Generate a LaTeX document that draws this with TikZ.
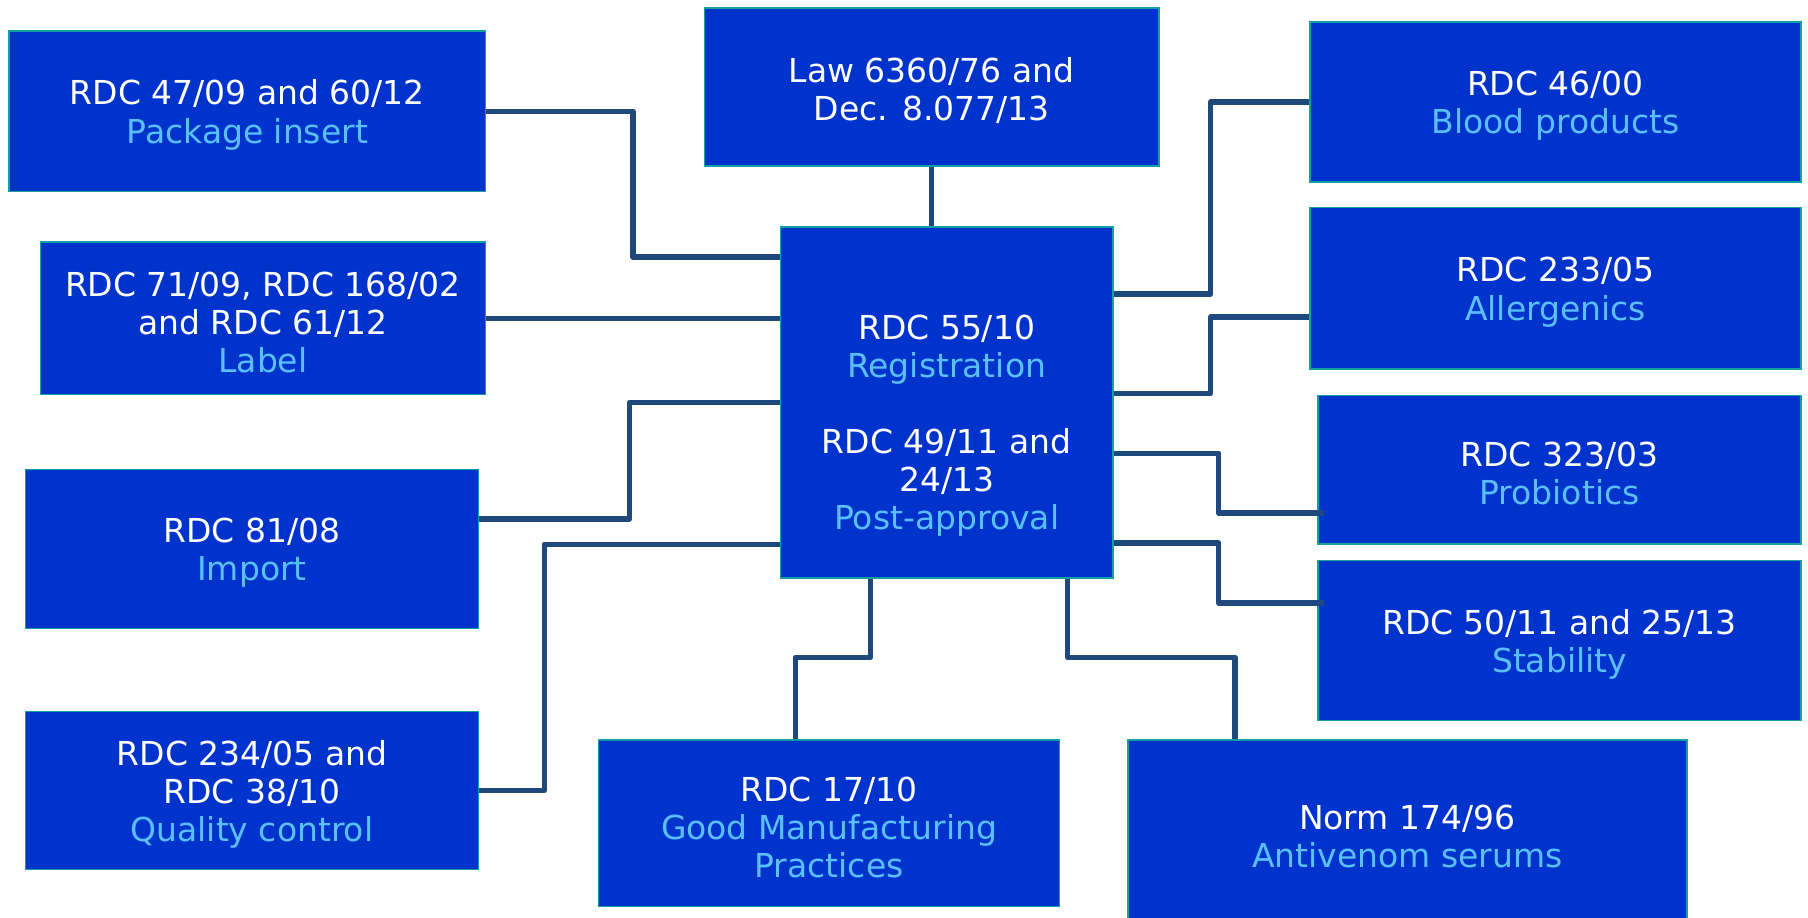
\documentclass[tikz,border=0pt]{standalone}
\usepackage{fontspec}
\setmainfont{DejaVu Sans}
\usepackage{xcolor}
\definecolor{boxfill}{RGB}{0,51,204}
\definecolor{boxedge}{RGB}{20,160,160}
\definecolor{conncol}{RGB}{31,73,125}
\definecolor{subcol}{RGB}{91,192,250}
\newcommand{\subt}[1]{{\color{subcol}#1}}
\newcommand{\tstr}{\rule{0pt}{28pt}}
\begin{document}
\begin{tikzpicture}[x=1pt,y=1pt,
  box/.style={rectangle, draw=boxedge, line width=1.4pt, fill=boxfill, inner sep=0pt,
    text=white, align=center, font=\fontsize{28.6}{33}\selectfont},
  txt/.style={text=white, align=center, inner sep=0pt, font=\fontsize{28.6}{33}\selectfont},
  conn/.style={draw=conncol, line width=4.6pt, line join=round}]
\useasboundingbox (0,0) rectangle (1568,-796);
\fill[white] (0,0) rectangle (1568,-796);
\clip (0,0) rectangle (1568,-796);
% left column
\node[box, minimum width=413, minimum height=139] (pi) at (214.5,-96.5)
  {\tstr RDC 47/09 and 60/12\\\subt{Package insert}};
\node[box, minimum width=386, minimum height=132] (lab) at (228,-276)
  {\tstr RDC 71/09, RDC 168/02\\and RDC 61/12\\\subt{Label}};
\node[box, minimum width=393, minimum height=138] (imp) at (218.5,-476)
  {\tstr RDC 81/08\\\subt{Import}};
\node[box, minimum width=393, minimum height=137] (qc) at (218.5,-685.5)
  {\tstr RDC 234/05 and\\RDC 38/10\\\subt{Quality control}};
% top and centre
\node[box, minimum width=394, minimum height=137] (law) at (808,-75.5)
  {\tstr Law 6360/76 and\\Dec. 8.077/13};
\node[box, minimum width=288, minimum height=304] (c) at (821,-349) {};
\node[txt] (ct) at (821,-369)
  {RDC 55/10\\\subt{Registration}\\[33pt]RDC 49/11 and\\24/13\\\subt{Post-approval}};
% bottom
\node[box, minimum width=400, minimum height=144] (gmp) at (719,-714)
  {\tstr RDC 17/10\\\subt{Good Manufacturing}\\\subt{Practices}};
\node[box, minimum width=485, minimum height=160] (av) at (1220.5,-722)
  {\tstr Norm 174/96\\\subt{Antivenom serums}};
% right column
\node[box, minimum width=426, minimum height=139] (bp) at (1349,-88.5)
  {\tstr RDC 46/00\\\subt{Blood products}};
\node[box, minimum width=426, minimum height=140] (al) at (1349,-250)
  {\tstr RDC 233/05\\\subt{Allergenics}};
\node[box, minimum width=419, minimum height=129] (pr) at (1352.5,-407.5)
  {\tstr RDC 323/03\\\subt{Probiotics}};
\node[box, minimum width=419, minimum height=139] (st) at (1352.5,-555.5)
  {\tstr RDC 50/11 and 25/13\\\subt{Stability}};
% connectors
\draw[conn] (pi.east) -| (549,-223) -- (c.west |- 0,-223);
\draw[conn] (lab.east) -- (c.west |- lab.east);
\draw[conn] (imp.east |- 0,-450) -| (546,-349) -- (c.west |- 0,-349);
\draw[conn] (qc.east) -| (472,-472) -- (c.west |- 0,-472);
\draw[conn] (law.south) -- (law.south |- c.north);
\draw[conn] (c.east |- 0,-255) -| (1050,-88.5) -- (bp.west);
\draw[conn] (c.east |- 0,-341) -| (1050,-275) -- (al.west |- 0,-275);
\draw[conn] (c.east |- 0,-393) -| (1057,-445) -- ([xshift=6pt]pr.west |- 0,-445);
\draw[conn] (c.east |- 0,-471) -| (1057,-523) -- ([xshift=6pt]st.west |- 0,-523);
\draw[conn] (c.south -| 755,0) |- (690,-570) -- (gmp.north -| 690,0);
\draw[conn] (c.south -| 926,0) |- (1071,-570) -- (av.north -| 1071,0);
\end{tikzpicture}
\end{document}
